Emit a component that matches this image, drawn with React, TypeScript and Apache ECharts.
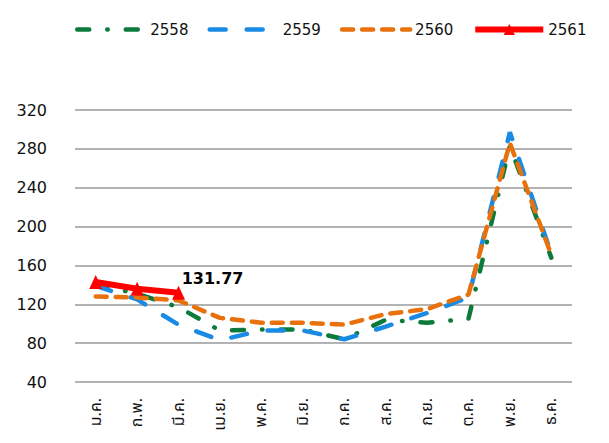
import React, { useEffect, useRef } from "react";
import * as echarts from "echarts";

const months = ["ม.ค.", "ก.พ.", "มี.ค.", "เม.ย.", "พ.ค.", "มิ.ย.", "ก.ค.", "ส.ค.", "ก.ย.", "ต.ค.", "พ.ย.", "ธ.ค."];
const y2558 = [140, 131, 117, 93, 94, 94, 84, 104, 101, 105, 283, 168];
const y2559 = [139, 125, 99, 83, 93, 93, 84, 97, 111, 127, 297, 172];
const y2560 = [128, 127, 124, 106, 101, 101, 99, 110, 115, 130, 286, 171];
const y2561 = [143, 136, 131.77];
const yTicks = [40, 80, 120, 160, 200, 240, 280, 320];

const GREEN = "#0b7a3b";
const BLUE = "#1a8be4";
const ORANGE = "#e8710c";
const RED = "#ff0000";
const greenDash = [12, 18, 0.5, 18];
const blueDash = [16, 21];
const orangeDash = [11, 9];

export default function App() {
  const ref = useRef<HTMLDivElement>(null);
  useEffect(() => {
    if (!ref.current) return;
    const chart = echarts.init(ref.current, null, { renderer: "svg" });
    const font = "DejaVu Sans, Verdana, sans-serif";
    chart.setOption({
      animation: false,
      backgroundColor: "#fff",
      textStyle: { fontFamily: font },
      legend: {
        left: 70,
        top: 17,
        itemWidth: 68,
        itemHeight: 14,
        itemGap: 19,
        textStyle: { fontSize: 15, color: "#111", fontFamily: font },
        data: [
          { name: "2558", itemStyle: { opacity: 0 }, lineStyle: { width: 4.5, color: GREEN, type: greenDash, cap: "round" } },
          { name: "2559", itemStyle: { opacity: 0 }, lineStyle: { width: 4.5, color: BLUE, type: blueDash, cap: "round" } },
          { name: "2560", itemStyle: { opacity: 0 }, lineStyle: { width: 4.5, color: ORANGE, type: orangeDash, cap: "round" } },
          { name: "2561", lineStyle: { width: 6, color: RED, type: "solid" } },
        ],
      },
      grid: { left: 75, right: 37, top: 110, bottom: 61, containLabel: false },
      xAxis: {
        type: "category",
        data: months,
        boundaryGap: true,
        axisLine: { show: false },
        axisTick: { show: false },
        axisLabel: {
          rotate: 90,
          margin: 16,
          fontSize: 16,
          color: "#111",
          interval: 0,
          fontFamily: '"Noto Sans Thai", "Noto Sans", "DejaVu Sans", sans-serif',
        },
      },
      yAxis: {
        type: "value",
        min: yTicks[0],
        max: yTicks[yTicks.length - 1],
        interval: 40,
        axisLine: { show: false },
        axisTick: { show: false },
        axisLabel: { fontSize: 16, color: "#111", margin: 28, fontFamily: font },
        splitLine: { lineStyle: { color: "#9a9a9a", width: 1.5 } },
      },
      series: [
        {
          name: "2558",
          type: "line",
          data: y2558,
          symbol: "none",
          color: GREEN,
          lineStyle: { width: 4.5, color: GREEN, type: greenDash, cap: "round" },
        },
        {
          name: "2559",
          type: "line",
          data: y2559,
          symbol: "none",
          color: BLUE,
          lineStyle: { width: 4.5, color: BLUE, type: blueDash, cap: "round" },
        },
        {
          name: "2560",
          type: "line",
          data: y2560,
          symbol: "none",
          color: ORANGE,
          lineStyle: { width: 4.5, color: ORANGE, type: orangeDash, cap: "round" },
        },
        {
          name: "2561",
          type: "line",
          data: y2561,
          symbol: "triangle",
          symbolSize: [13, 14],
          color: RED,
          itemStyle: { color: RED },
          lineStyle: { width: 6, color: RED },
          label: {
            show: true,
            position: "top",
            offset: [34, 6],
            fontSize: 16,
            fontWeight: "bold",
            color: "#000",
            fontFamily: font,
            formatter: (p: any) => (p.dataIndex === y2561.length - 1 ? String(p.value) : ""),
          },
        },
      ],
    });
    return () => chart.dispose();
  }, []);
  return (
    <div
      ref={ref}
      style={{ position: "fixed", left: 0, top: 0, width: 609, height: 443 }}
    />
  );
}
